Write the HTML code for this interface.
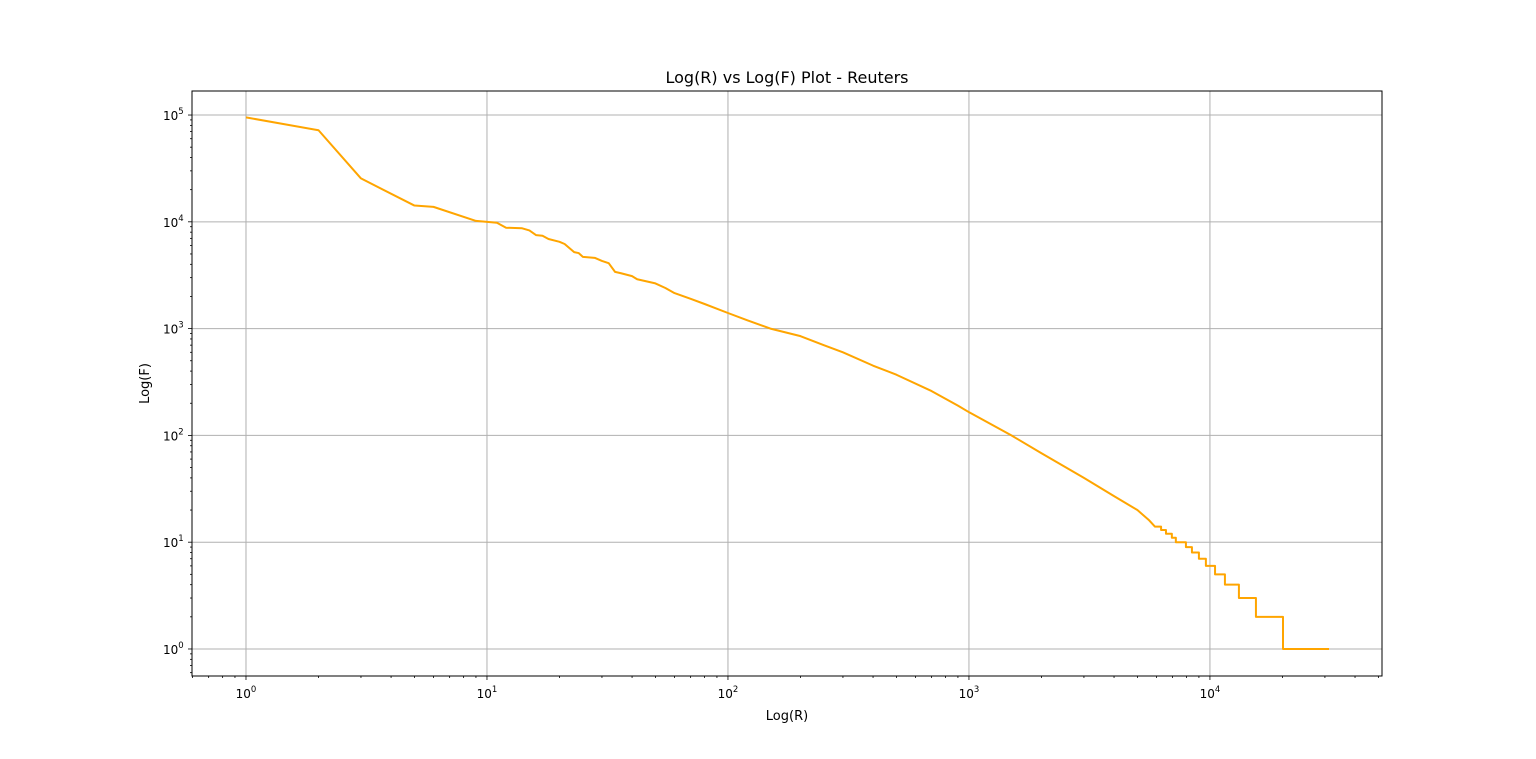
<!DOCTYPE html>
<html><head><meta charset="utf-8"><style>
body{margin:0;background:#fff;}
svg{display:block;font-family:"DejaVu Sans","Liberation Sans",sans-serif;}
</style></head><body>
<svg id="chart" width="1536" height="759" xmlns="http://www.w3.org/2000/svg"></svg>
<script>
const ranks = [1,2,3,5,6,9,11,12,14,15,16,17,18,20,21,23,24,25,28,30,32,34,36,40,42,50,55,60,70,80,100,120,150,200,250,300,400,500,700,900,1000,1500,2000,3000,4000,5000,5600];
const freqs = [95000,72000,25500,14200,13800,10200,9800,8800,8700,8300,7500,7400,6900,6500,6200,5200,5100,4700,4600,4300,4100,3400,3300,3100,2900,2650,2400,2150,1900,1700,1400,1200,1000,850,700,600,450,370,260,190,165,100,68,40,27,20,16];
const stepRanks = [5910,6270,6570,6950,7220,7950,8420,9000,9620,10500,11540,13190,15520,20100,31200];
const stepFreqs = [14,13,12,11,10,9,8,7,6,5,4,3,2,1];
const xTicks = [0,1,2,3,4];
const yTicks = [0,1,2,3,4,5];

const svg = document.getElementById('chart');
const NS = 'http://www.w3.org/2000/svg';
const L=192,R=1382,T=91,B=676;
const xMin=Math.log10(0.597), xMax=4.714, yMin=-0.253, yMax=5.225;
const sx = v => L + (Math.log10(v)-xMin)/(xMax-xMin)*(R-L);
const sy = v => B - (Math.log10(v)-yMin)/(yMax-yMin)*(B-T);
function mk(tag, attrs, parent){const e=document.createElementNS(NS,tag);for(const k in attrs)e.setAttribute(k,attrs[k]);(parent||svg).appendChild(e);return e;}

xTicks.forEach(p=>{const x=sx(Math.pow(10,p));
  const g=mk('line',{x1:x,x2:x,y1:T,y2:B,stroke:'#b0b0b0','stroke-width':1});
  
  
});
yTicks.forEach(p=>{const y=sy(Math.pow(10,p));
  const g=mk('line',{x1:L,x2:R,y1:y,y2:y,stroke:'#b0b0b0','stroke-width':1});
  
  
});
for(let p=-1;p<=4;p++)for(let m=2;m<10;m++){const v=m*Math.pow(10,p);
  if(Math.log10(v)>xMin&&Math.log10(v)<xMax){const x=sx(v);mk('line',{x1:x,x2:x,y1:B,y2:B+2,stroke:'#000','stroke-width':0.8});}
  if(Math.log10(v)>yMin&&Math.log10(v)<yMax){const y=sy(v);mk('line',{x1:L-2,x2:L,y1:y,y2:y,stroke:'#000','stroke-width':0.8});}
}
xTicks.forEach(p=>{const x=sx(Math.pow(10,p));
  mk('line',{x1:x,x2:x,y1:B,y2:B+4,stroke:'#000','stroke-width':0.8});
  const t=mk('text',{x:x,y:B+22,'text-anchor':'middle','font-size':12});
  
  
  t.innerHTML='10<tspan dy="-6" font-size="8.5">'+p+'</tspan>';
});
yTicks.forEach(p=>{const y=sy(Math.pow(10,p));
  mk('line',{x1:L-4,x2:L,y1:y,y2:y,stroke:'#000','stroke-width':0.8});
  const t=mk('text',{x:L-29,y:y+5,'font-size':12});
  
  
  t.innerHTML='10<tspan dy="-6" font-size="8.5">'+p+'</tspan>';
});
let pts=[];
for(let i=0;i<ranks.length;i++)pts.push([sx(ranks[i]),sy(freqs[i])]);
for(let i=0;i<stepFreqs.length;i++){pts.push([sx(stepRanks[i]),sy(stepFreqs[i])]);pts.push([sx(stepRanks[i+1]),sy(stepFreqs[i])]);}
const line=mk('polyline',{points:pts.map(p=>p.join(',')).join(' '),fill:'none',stroke:'#ffa500','stroke-width':2,'stroke-linejoin':'round'});


const fr=mk('rect',{x:L,y:T,width:R-L,height:B-T,fill:'none',stroke:'#000','stroke-width':1});


const ti=mk('text',{x:(L+R)/2,y:83,'text-anchor':'middle','font-size':16});ti.textContent='Log(R) vs Log(F) Plot - Reuters';


const xl=mk('text',{x:(L+R)/2,y:720,'text-anchor':'middle','font-size':13});xl.textContent='Log(R)';


const yl=mk('text',{x:149,y:(T+B)/2,'text-anchor':'middle','font-size':13,transform:'rotate(-90 149 '+((T+B)/2)+')'});yl.textContent='Log(F)';


</script>
</body></html>
